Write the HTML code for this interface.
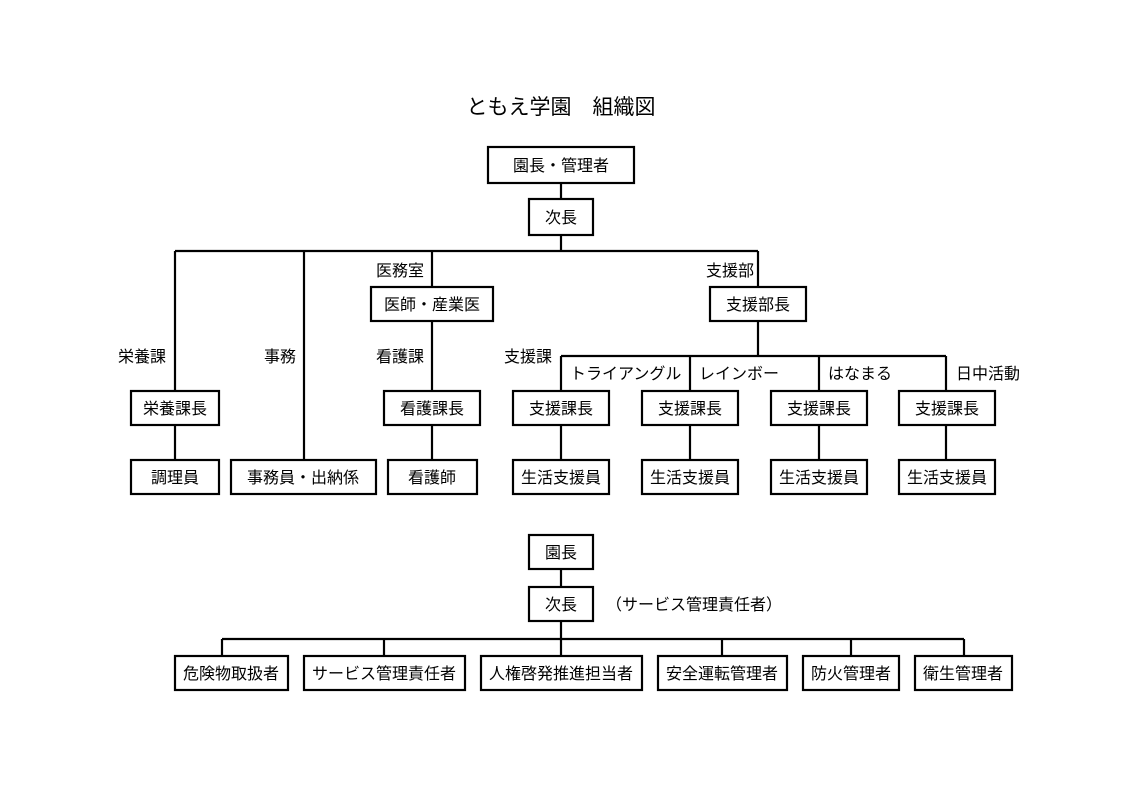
<!DOCTYPE html>
<html><head><meta charset="utf-8"><style>
html,body{margin:0;padding:0;background:#fff;}
svg{display:block;}
text{font-family:"Liberation Sans","Noto Sans CJK JP","IPAGothic",sans-serif;font-size:16px;fill:#000;}
.b{fill:#fff;stroke:#000;stroke-width:2.2;}
.l{stroke:#000;stroke-width:2.2;fill:none;}
</style></head><body>
<svg width="1123" height="794" viewBox="0 0 1123 794" xmlns="http://www.w3.org/2000/svg">
<text x="561" y="114" text-anchor="middle" style="font-size:21px">ともえ学園　組織図</text>

<path class="l" d="M561 183V199 M561 235V251 M175 251H758 M175 251V391 M304 251V460 M432 251V287 M758 251V287 M432 321V391 M432 425V460 M175 425V460 M758 321V356 M561 356H946 M561 356V391 M690 356V391 M819 356V391 M946 356V391 M561 425V460 M690 425V460 M819 425V460 M946 425V460"/>

<rect class="b" x="488" y="147" width="146" height="36"/><text x="561" y="171" text-anchor="middle">園長・管理者</text>
<rect class="b" x="529" y="199" width="64" height="36"/><text x="561" y="223" text-anchor="middle">次長</text>

<text x="400" y="276" text-anchor="middle">医務室</text>
<text x="730" y="276" text-anchor="middle">支援部</text>
<rect class="b" x="371" y="287" width="122" height="34"/><text x="432" y="310" text-anchor="middle">医師・産業医</text>
<rect class="b" x="710" y="287" width="96" height="34"/><text x="758" y="310" text-anchor="middle">支援部長</text>

<text x="142" y="362" text-anchor="middle">栄養課</text>
<text x="280" y="362" text-anchor="middle">事務</text>
<text x="400" y="362" text-anchor="middle">看護課</text>
<text x="528" y="362" text-anchor="middle">支援課</text>
<text x="570" y="379">トライアングル</text>
<text x="699" y="379">レインボー</text>
<text x="828" y="379">はなまる</text>
<text x="956" y="379">日中活動</text>

<rect class="b" x="131" y="391" width="88" height="34"/><text x="175" y="414" text-anchor="middle">栄養課長</text>
<rect class="b" x="384" y="391" width="96" height="34"/><text x="432" y="414" text-anchor="middle">看護課長</text>
<rect class="b" x="513" y="391" width="96" height="34"/><text x="561" y="414" text-anchor="middle">支援課長</text>
<rect class="b" x="642" y="391" width="96" height="34"/><text x="690" y="414" text-anchor="middle">支援課長</text>
<rect class="b" x="771" y="391" width="96" height="34"/><text x="819" y="414" text-anchor="middle">支援課長</text>
<rect class="b" x="899" y="391" width="96" height="34"/><text x="947" y="414" text-anchor="middle">支援課長</text>

<rect class="b" x="131" y="460" width="88" height="34"/><text x="175" y="483" text-anchor="middle">調理員</text>
<rect class="b" x="231" y="460" width="145" height="34"/><text x="303" y="483" text-anchor="middle">事務員・出納係</text>
<rect class="b" x="388" y="460" width="89" height="34"/><text x="432" y="483" text-anchor="middle">看護師</text>
<rect class="b" x="513" y="460" width="96" height="34"/><text x="561" y="483" text-anchor="middle">生活支援員</text>
<rect class="b" x="642" y="460" width="96" height="34"/><text x="690" y="483" text-anchor="middle">生活支援員</text>
<rect class="b" x="771" y="460" width="96" height="34"/><text x="819" y="483" text-anchor="middle">生活支援員</text>
<rect class="b" x="899" y="460" width="96" height="34"/><text x="947" y="483" text-anchor="middle">生活支援員</text>

<path class="l" d="M561 569V587 M561 621V639 M222 639H964 M222 639V656 M384 639V656 M561 639V656 M722 639V656 M851 639V656 M964 639V656"/>
<rect class="b" x="529" y="535" width="64" height="34"/><text x="561" y="558" text-anchor="middle">園長</text>
<rect class="b" x="529" y="587" width="64" height="34"/><text x="561" y="610" text-anchor="middle">次長</text>
<text x="606" y="610">（サービス管理責任者）</text>

<rect class="b" x="175" y="656" width="113" height="34"/><text x="231" y="679" text-anchor="middle">危険物取扱者</text>
<rect class="b" x="304" y="656" width="161" height="34"/><text x="384" y="679" text-anchor="middle">サービス管理責任者</text>
<rect class="b" x="481" y="656" width="161" height="34"/><text x="561" y="679" text-anchor="middle">人権啓発推進担当者</text>
<rect class="b" x="658" y="656" width="129" height="34"/><text x="722" y="679" text-anchor="middle">安全運転管理者</text>
<rect class="b" x="803" y="656" width="96" height="34"/><text x="851" y="679" text-anchor="middle">防火管理者</text>
<rect class="b" x="915" y="656" width="97" height="34"/><text x="963" y="679" text-anchor="middle">衛生管理者</text>
</svg>
</body></html>
